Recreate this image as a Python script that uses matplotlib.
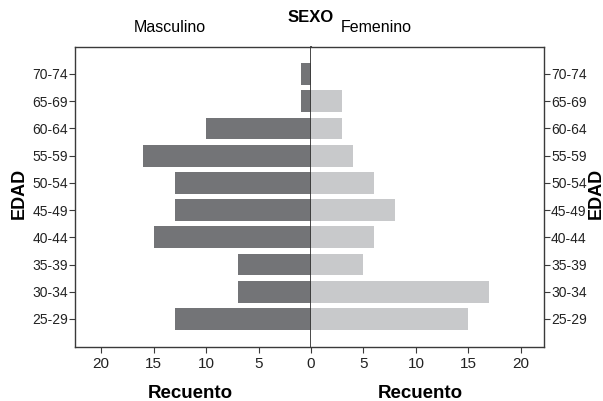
import matplotlib.pyplot as plt
from matplotlib import rcParams

rcParams['font.family'] = ['Liberation Sans', 'DejaVu Sans']
rcParams['font.size'] = 11

edades = ['25-29', '30-34', '35-39', '40-44', '45-49',
          '50-54', '55-59', '60-64', '65-69', '70-74']
masculino = [13, 7, 7, 15, 13, 13, 16, 10, 1, 1]
femenino = [15, 17, 5, 6, 8, 6, 4, 3, 3, 0]
ticks_izq = [20, 15, 10, 5]
ticks_der = [0, 5, 10, 15, 20]

W, H = 603, 401
fig = plt.figure(figsize=(W / 100, H / 100), dpi=100)

bottom = (H - 347) / H
height = 300 / H
ax_l = fig.add_axes([75 / W, bottom, 236 / W, height])
ax_r = fig.add_axes([311 / W, bottom, 233 / W, height])

pos = list(range(len(edades)))
spine_col = '#3a3a3a'

ax_l.barh(pos, masculino, height=0.8, color='#737477')
ax_r.barh(pos, femenino, height=0.8, color='#c8c9cb')

ax_l.set_xlim(22.5, 0)
ax_r.set_xlim(0, 22.2)
for ax in (ax_l, ax_r):
    ax.set_ylim(-1.03, 9.99)
    ax.set_yticks(pos)
    ax.set_yticklabels(edades, fontsize=10)
    ax.tick_params(length=4, width=0.8, color=spine_col, labelcolor='#222222')
    for s in ax.spines.values():
        s.set_color(spine_col)
        s.set_linewidth(1.0)

ax_l.set_xticks(ticks_izq)
ax_r.set_xticks(ticks_der)
ax_l.tick_params(axis='y', pad=1)
ax_r.yaxis.tick_right()
ax_r.tick_params(axis='y', pad=1)
ax_l.spines['right'].set_linewidth(1.3)
ax_r.spines['left'].set_visible(False)

fig.text(311 / W, 1 - 17 / H, 'SEXO', ha='center', va='center',
         fontsize=12, fontweight='bold')
fig.text(170 / W, 1 - 28 / H, 'Masculino', ha='center', va='center', fontsize=11.5)
fig.text(376 / W, 1 - 28 / H, 'Femenino', ha='center', va='center', fontsize=11.5)
fig.text(190 / W, 1 - 394 / H, 'Recuento', ha='center', va='center',
         fontsize=13.5, fontweight='bold')
fig.text(420 / W, 1 - 394 / H, 'Recuento', ha='center', va='center',
         fontsize=13.5, fontweight='bold')
fig.text(19 / W, 1 - 193 / H, 'EDAD', ha='center', va='center', rotation=90,
         fontsize=13, fontweight='bold')
fig.text(596 / W, 1 - 193 / H, 'EDAD', ha='center', va='center', rotation=90,
         fontsize=13, fontweight='bold')

plt.savefig('out.png', dpi=100)
